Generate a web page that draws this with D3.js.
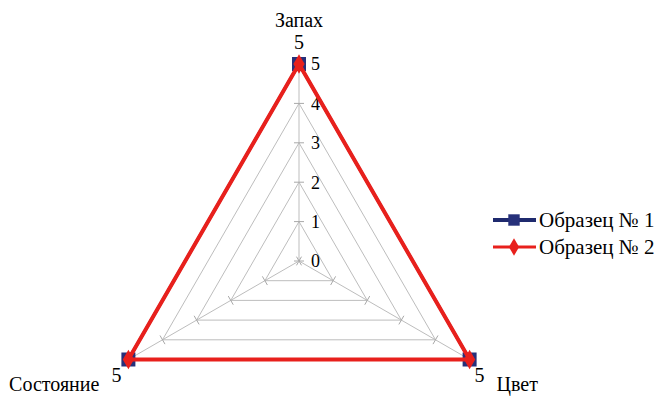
<!DOCTYPE html>
<html>
<head>
<meta charset="utf-8">
<script src="https://cdn.jsdelivr.net/npm/d3@7"></script>
<style>
  body { margin: 0; background: #fff; }
</style>
</head>
<body>
<script>
var width = 654, height = 396;

var categories = ["Запах", "Цвет", "Состояние"];
var series_names = ["Образец № 1", "Образец № 2"];
var sample1 = [5, 5, 5];
var sample2 = [5, 5, 5];
var ticks = [0, 1, 2, 3, 4, 5];

var cx = 299, cy = 261, radius = 197;

var r_scale = d3.scaleLinear().domain([0, 5]).range([0, radius]);
var angle = function(i) { return i * 2 * Math.PI / categories.length; };
var px = function(i, v) { return cx + r_scale(v) * Math.sin(angle(i)); };
var py = function(i, v) { return cy - r_scale(v) * Math.cos(angle(i)); };

var svg = d3.select("body").append("svg")
    .attr("width", width)
    .attr("height", height)
    .attr("font-family", "'Liberation Serif', 'Times New Roman', serif");

// web
ticks.slice(1).forEach(function(t) {
  svg.append("polygon")
      .attr("points", categories.map(function(c, i) { return px(i, t) + "," + py(i, t); }).join(" "))
      .style("fill", "none")
      .style("stroke", "#bdbdbd")
      .style("stroke-width", 1);
});

// spokes + tick marks
categories.forEach(function(c, i) {
  svg.append("line")
      .attr("x1", cx).attr("y1", cy)
      .attr("x2", px(i, 5)).attr("y2", py(i, 5))
      .style("stroke", "#bdbdbd");
  var a = angle(i);
  ticks.forEach(function(t) {
    var x = px(i, t), y = py(i, t);
    svg.append("line")
        .attr("x1", x - 5 * Math.cos(a)).attr("y1", y - 5 * Math.sin(a))
        .attr("x2", x + 5 * Math.cos(a)).attr("y2", y + 5 * Math.sin(a))
        .style("stroke", "#a8a8a8");
  });
});

// axis tick labels on first axis
svg.selectAll(".tick-label")
    .data(ticks)
  .enter().append("text")
    .attr("class", "tick-label")
    .attr("x", cx + 12)
    .attr("y", function(d) { return cy - r_scale(d); })
    .attr("dy", "0.35em")
    .style("font-size", "18px")
    .text(function(d) { return d; });

var line = d3.line()
    .x(function(d) { return px(d.i, d.v); })
    .y(function(d) { return py(d.i, d.v); })
    .curve(d3.curveLinearClosed);

var pts1 = sample1.map(function(v, i) { return {i: i, v: v}; });
var pts2 = sample2.map(function(v, i) { return {i: i, v: v}; });

svg.append("path")
    .attr("d", line(pts1))
    .style("fill", "none")
    .style("stroke", "#1f2a6e")
    .style("stroke-width", 3);

svg.selectAll(".sq")
    .data(pts1)
  .enter().append("rect")
    .attr("x", function(d) { return px(d.i, d.v) - 7; })
    .attr("y", function(d) { return py(d.i, d.v) - 7; })
    .attr("width", 14).attr("height", 14)
    .style("fill", "#26307a");

svg.append("path")
    .attr("d", line(pts2))
    .style("fill", "none")
    .style("stroke", "#e8201c")
    .style("stroke-width", 4)
    .style("stroke-linejoin", "miter");

var diamond = d3.symbol().type(d3.symbolDiamond).size(110);
svg.selectAll(".dm")
    .data(pts2)
  .enter().append("path")
    .attr("transform", function(d) { return "translate(" + px(d.i, d.v) + "," + py(d.i, d.v) + ")"; })
    .attr("d", diamond)
    .style("fill", "#e8201c");

// data labels
var label_off = [[0, -15], [10, 22], [-12, 22]];
svg.selectAll(".val")
    .data(pts1)
  .enter().append("text")
    .attr("x", function(d) { return px(d.i, d.v) + label_off[d.i][0]; })
    .attr("y", function(d) { return py(d.i, d.v) + label_off[d.i][1]; })
    .attr("text-anchor", "middle")
    .style("font-size", "20px")
    .text(function(d) { return d.v; });

// category labels
var cat_pos = [[0, -37, "middle"], [27, 31, "start"], [-29, 31, "end"]];
svg.selectAll(".cat")
    .data(categories)
  .enter().append("text")
    .attr("x", function(d, i) { return px(i, 5) + cat_pos[i][0]; })
    .attr("y", function(d, i) { return py(i, 5) + cat_pos[i][1]; })
    .attr("text-anchor", function(d, i) { return cat_pos[i][2]; })
    .style("font-size", "20px")
    .text(function(d) { return d; });

// legend
var colors = ["#1f2a6e", "#e8201c"];
var legend = svg.selectAll(".legend")
    .data(series_names)
  .enter().append("g")
    .attr("transform", function(d, i) { return "translate(493," + (220 + i * 27) + ")"; });

legend.append("line")
    .attr("x1", 0).attr("x2", 43)
    .style("stroke", function(d, i) { return colors[i]; })
    .style("stroke-width", function(d, i) { return i == 0 ? 4 : 3; });

legend.append("path")
    .attr("transform", "translate(21,0)")
    .attr("d", function(d, i) {
      return i == 0 ? d3.symbol().type(d3.symbolSquare).size(130)() : d3.symbol().type(d3.symbolDiamond).size(90)();
    })
    .style("fill", function(d, i) { return i == 0 ? "#26307a" : colors[i]; });

legend.append("text")
    .attr("x", 46)
    .attr("dy", "0.35em")
    .style("font-size", "21px")
    .text(function(d) { return d; });
</script>
</body>
</html>
